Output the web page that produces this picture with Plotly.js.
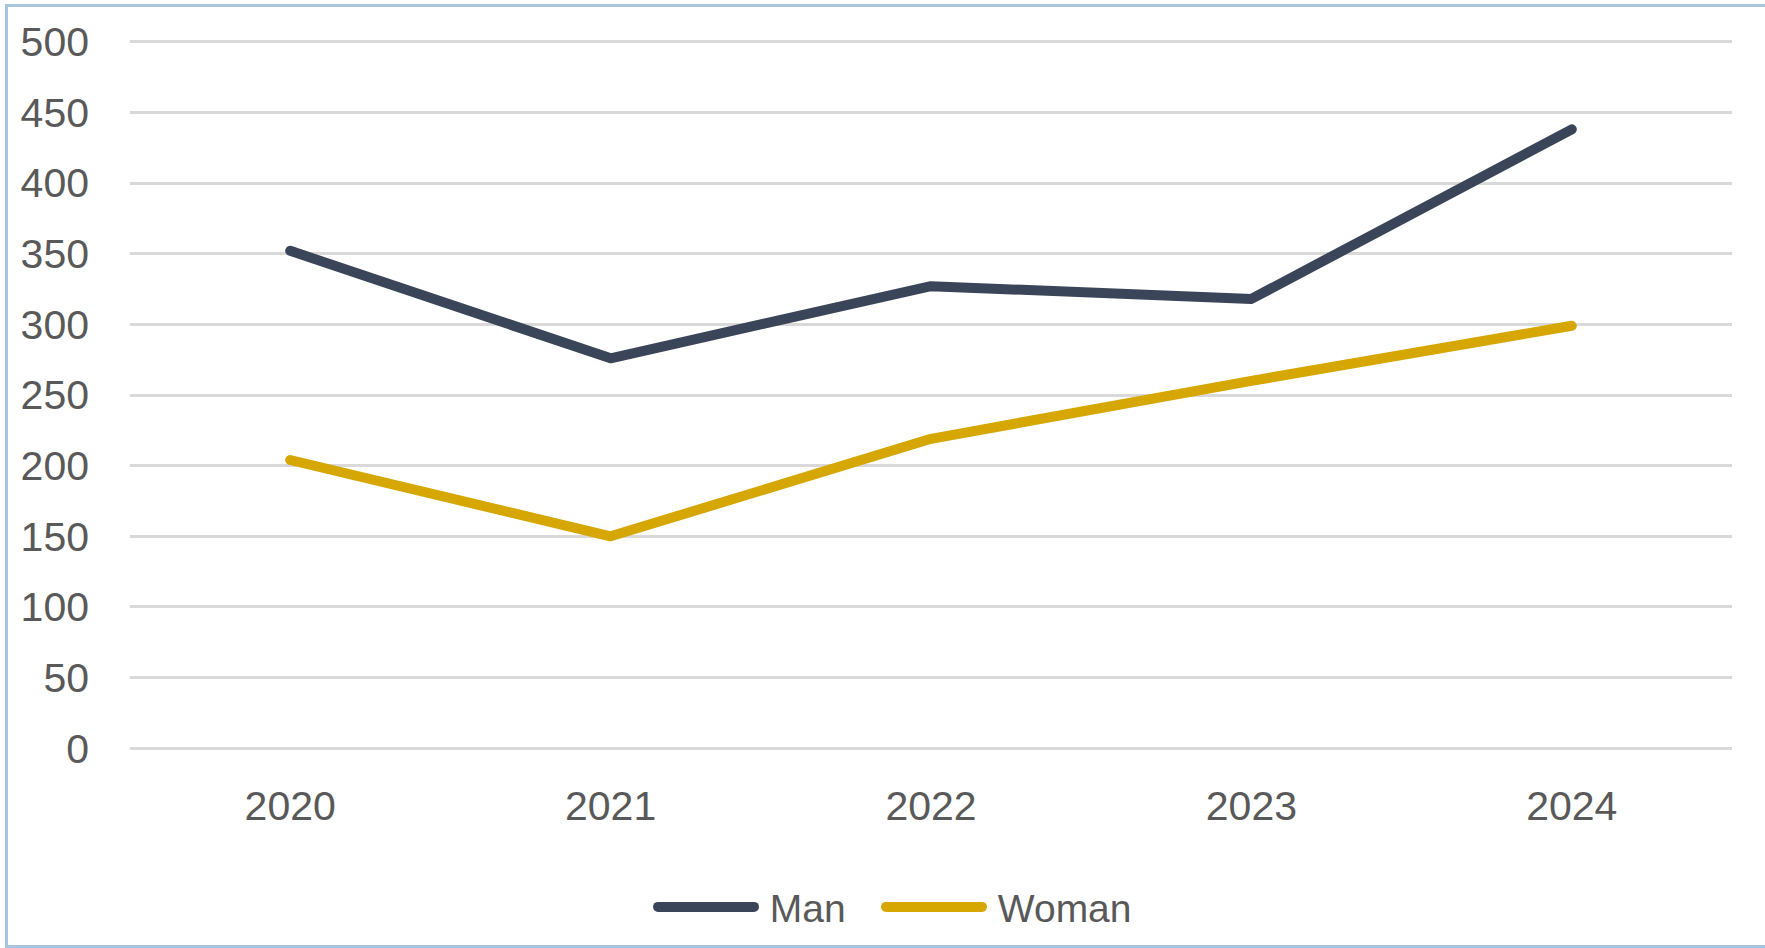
<!DOCTYPE html>
<html>
<head>
<meta charset="utf-8">
<script src="https://cdn.plot.ly/plotly-3.0.1.min.js"></script>
<style>
  html, body { margin: 0; padding: 0; background: #ffffff; }
  #wrap { position: relative; width: 1765px; height: 948px; overflow: hidden; }
  #chart { position: absolute; left: 0; top: 0; width: 1765px; height: 948px; }
  #frame { position: absolute; left: 5px; top: 4px; width: 1800px; height: 944px;
           border-left: 3px solid #a7c5e2; border-top: 3px solid #a7c5e2; border-bottom: 3px solid #a7c5e2;
           box-sizing: border-box; pointer-events: none; }
  .scatterlayer path.js-line, .legendlines path { stroke-linecap: round; stroke-linejoin: round; }
</style>
</head>
<body>
<div id="wrap">
  <div id="chart"></div>
  <div id="frame"></div>
</div>
<script>
const years = ["2020", "2021", "2022", "2023", "2024"];
const manValues = [352, 276, 327, 318, 438];
const womanValues = [204, 150, 219, 260, 299];
const yTicks = [0, 50, 100, 150, 200, 250, 300, 350, 400, 450, 500];
const seriesNames = ["\u00a0Man", "\u00a0Woman"];

const traces = [
  { x: years, y: manValues, name: seriesNames[0], type: "scatter", mode: "lines",
    line: { color: "#3b4559", width: 10 }, hoverinfo: "x+y+name", legend: "legend" },
  { x: years, y: womanValues, name: seriesNames[1], type: "scatter", mode: "lines",
    line: { color: "#d5a700", width: 10 }, hoverinfo: "x+y+name", legend: "legend2" }
];

const legendFont = { family: "Liberation Sans, Arial, sans-serif", size: 39, color: "#595959" };
const layout = {
  width: 1765, height: 948,
  margin: { l: 130, r: 33, t: 40, b: 198 },
  paper_bgcolor: "rgba(0,0,0,0)", plot_bgcolor: "rgba(0,0,0,0)",
  showlegend: true,
  font: { family: "Liberation Sans, Arial, sans-serif", color: "#595959", size: 40 },
  xaxis: {
    type: "category", categoryorder: "array", categoryarray: years,
    range: [-0.5, 4.5], showgrid: false, zeroline: false, showline: false,
    ticks: "", ticklabelstandoff: 28,
    tickfont: { family: "Liberation Sans, Arial, sans-serif", size: 41, color: "#595959" }
  },
  yaxis: {
    range: [-1.2, 501.2], tickvals: yTicks, ticktext: yTicks.map(String),
    showgrid: true, gridcolor: "#d9d9d9", gridwidth: 3,
    zeroline: false, showline: false, ticks: "", ticklabelstandoff: 40,
    tickfont: { family: "Liberation Sans, Arial, sans-serif", size: 41, color: "#595959" }
  },
  legend: {
    orientation: "h", xref: "container", yref: "container",
    x: 0.36997, xanchor: "left", y: 0.0432, yanchor: "middle",
    font: legendFont, itemwidth: 96, bgcolor: "rgba(0,0,0,0)"
  },
  legend2: {
    orientation: "h", xref: "container", yref: "container",
    x: 0.49915, xanchor: "left", y: 0.0432, yanchor: "middle",
    font: legendFont, itemwidth: 96, bgcolor: "rgba(0,0,0,0)"
  }
};

Plotly.newPlot("chart", traces, layout, { displayModeBar: false });
</script>
</body>
</html>
